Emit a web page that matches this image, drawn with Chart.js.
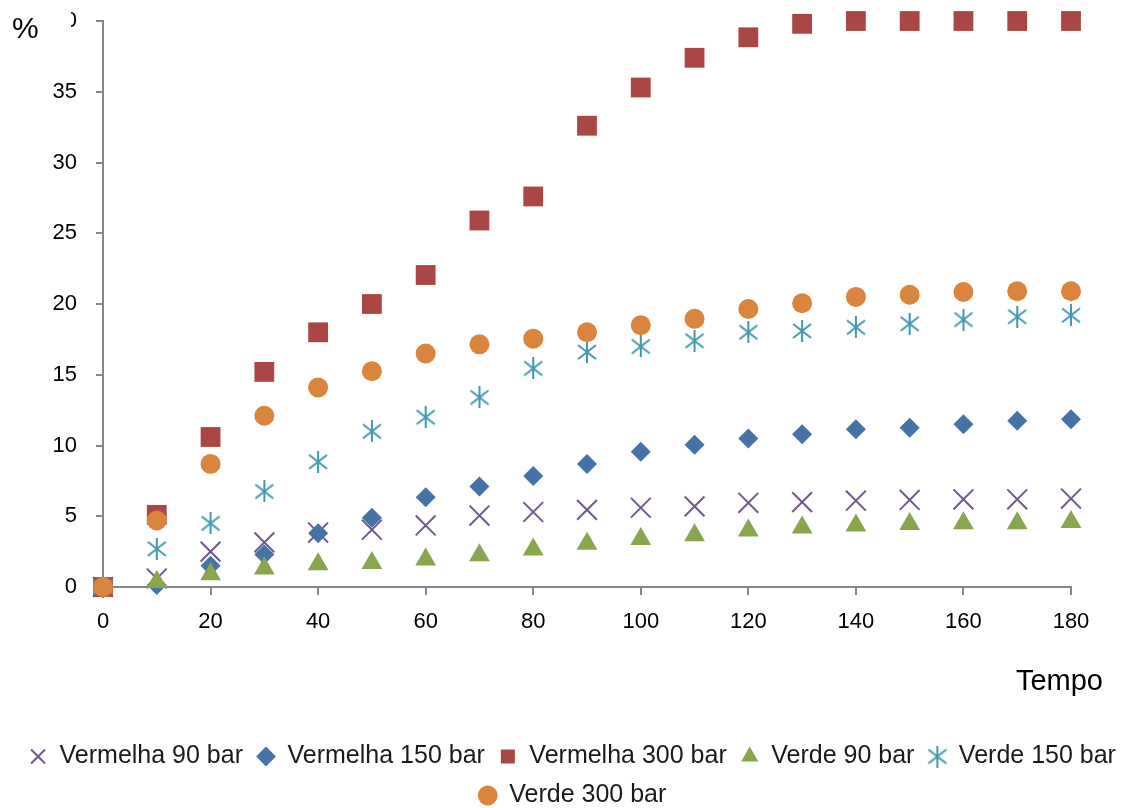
<!DOCTYPE html>
<html>
<head>
<meta charset="utf-8">
<script src="https://cdn.jsdelivr.net/npm/chart.js@4"></script>
<style>
  html, body { margin: 0; padding: 0; background: #fff; }
  #wrap { width: 1145px; height: 808px; }
</style>
</head>
<body>
<div id="wrap"><canvas id="chart" width="1145" height="808"></canvas></div>
<script>
// time values (x axis)
const tempo = [0, 10, 20, 30, 40, 50, 60, 70, 80, 90, 100, 110, 120, 130, 140, 150, 160, 170, 180];

// % values
const vermelha90  = [0, 0.6, 2.5, 3.15, 3.85, 4.05, 4.35, 5.05, 5.3, 5.45, 5.6, 5.7, 5.95, 6.0, 6.1, 6.15, 6.2, 6.2, 6.25];
const vermelha150 = [0, 0.15, 1.5, 2.3, 3.8, 4.9, 6.35, 7.1, 7.85, 8.7, 9.55, 10.05, 10.5, 10.8, 11.15, 11.25, 11.5, 11.75, 11.85];
const vermelha300 = [0, 5.1, 10.6, 15.2, 18.0, 20.0, 22.05, 25.9, 27.6, 32.6, 35.3, 37.4, 38.85, 39.8, 40, 40, 40, 40, 40];
const verde90     = [0, 0.35, 0.9, 1.3, 1.6, 1.7, 1.95, 2.25, 2.65, 3.05, 3.4, 3.65, 4.0, 4.2, 4.35, 4.45, 4.5, 4.5, 4.6];
const verde150    = [0, 2.7, 4.5, 6.75, 8.85, 11.0, 12.0, 13.4, 15.45, 16.6, 17.0, 17.4, 18.0, 18.1, 18.35, 18.6, 18.9, 19.1, 19.2];
const verde300    = [0, 4.7, 8.7, 12.1, 14.1, 15.25, 16.5, 17.15, 17.55, 18.0, 18.5, 18.95, 19.65, 20.05, 20.5, 20.65, 20.85, 20.9, 20.9];

const seriesNames = ['Vermelha 90 bar', 'Vermelha 150 bar', 'Vermelha 300 bar', 'Verde 90 bar', 'Verde 150 bar', 'Verde 300 bar'];
const yTicks = { min: 0, max: 40, step: 5 };
const xTicks = { min: 0, max: 180, step: 20 };

const axisGray = '#868686';
const fontFamily = '"Liberation Sans", Arial, sans-serif';

function toPoints(values) {
    return tempo.map((t, i) => ({ x: t, y: values[i] }));
}

// six-armed asterisk marker (Excel style)
function makeAsterisk(color) {
    const c = document.createElement('canvas');
    c.width = 22;
    c.height = 22;
    const g = c.getContext('2d');
    g.strokeStyle = color;
    g.lineWidth = 2;
    g.beginPath();
    g.moveTo(11, 0); g.lineTo(11, 22);
    g.moveTo(2, 4); g.lineTo(20, 18);
    g.moveTo(20, 4); g.lineTo(2, 18);
    g.stroke();
    return c;
}

const styles = [
    { color: '#71588F', pointStyle: 'crossRot', radius: 14, border: 2 },
    { color: '#4572A7', pointStyle: 'rectRot', radius: 10, border: 0 },
    { color: '#AA4643', pointStyle: 'rect', radius: 14, border: 0 },
    { color: '#89A54E', pointStyle: 'triangle', radius: 12, border: 0 },
    { color: '#4198AF', pointStyle: makeAsterisk('#4198AF'), radius: 11, border: 2 },
    { color: '#DB843D', pointStyle: 'circle', radius: 10, border: 0 }
];

const allValues = [vermelha90, vermelha150, vermelha300, verde90, verde150, verde300];

const datasets = allValues.map((vals, i) => ({
    label: seriesNames[i],
    data: toPoints(vals),
    showLine: false,
    pointStyle: styles[i].pointStyle,
    pointRadius: styles[i].radius,
    pointHoverRadius: styles[i].radius,
    backgroundColor: styles[i].color,
    borderColor: styles[i].color,
    borderWidth: styles[i].border,
    clip: false,
    order: allValues.length - i // later series drawn on top, like Excel
}));

// axis titles "%" and "Tempo", and the clipped top tick label
const axisTexts = {
    id: 'axisTexts',
    afterDraw(chart) {
        const { ctx, chartArea } = chart;
        ctx.save();
        ctx.fillStyle = '#fff';
        ctx.fillRect(0, 0, 71, chartArea.top + 22);
        ctx.fillStyle = '#000';
        ctx.font = '30px ' + fontFamily;
        ctx.textAlign = 'left';
        ctx.textBaseline = 'alphabetic';
        ctx.fillText('%', 12, chartArea.top + 17);
        ctx.font = '29px ' + fontFamily;
        ctx.textAlign = 'right';
        ctx.fillText('Tempo', chartArea.right + 32, chartArea.bottom + 103);
        ctx.restore();
    }
};

new Chart(document.getElementById('chart'), {
    type: 'scatter',
    data: { datasets: datasets },
    plugins: [axisTexts],
    options: {
        responsive: false,
        animation: false,
        layout: { padding: { top: 21, right: 0, bottom: -10, left: 0 } },
        plugins: {
            tooltip: { enabled: false },
            legend: {
                position: 'bottom',
                labels: {
                    usePointStyle: true,
                    boxWidth: 18,
                    boxHeight: 14,
                    padding: 14,
                    color: '#1a1a1a',
                    font: { family: fontFamily, size: 25 },
                    sort: (a, b) => a.datasetIndex - b.datasetIndex
                }
            }
        },
        scales: {
            x: {
                type: 'linear',
                min: xTicks.min,
                max: xTicks.max,
                afterFit: scale => { scale.height = 143; },
                ticks: {
                    stepSize: xTicks.step,
                    color: '#000',
                    padding: 14,
                    font: { family: fontFamily, size: 22 }
                },
                grid: { drawOnChartArea: false, color: axisGray, lineWidth: 2, tickLength: 8 },
                border: { color: axisGray, width: 2 }
            },
            y: {
                min: yTicks.min,
                max: yTicks.max,
                afterFit: scale => {
                    scale.width = 103;
                    scale.paddingTop = 0;
                    scale.paddingBottom = 0;
                },
                ticks: {
                    stepSize: yTicks.step,
                    color: '#000',
                    padding: 19,
                    font: { family: fontFamily, size: 22 }
                },
                grid: { drawOnChartArea: false, color: axisGray, lineWidth: 2, tickLength: 7 },
                border: { color: axisGray, width: 2 }
            },
            // empty right-hand axis that only reserves space, so the legend keeps full width
            spacer: {
                type: 'linear',
                position: 'right',
                display: true,
                afterFit: scale => {
                    scale.width = 74;
                    scale.paddingTop = 0;
                    scale.paddingBottom = 0;
                },
                ticks: { display: false },
                grid: { display: false, drawTicks: false },
                border: { display: false }
            }
        }
    }
});
</script>
</body>
</html>
